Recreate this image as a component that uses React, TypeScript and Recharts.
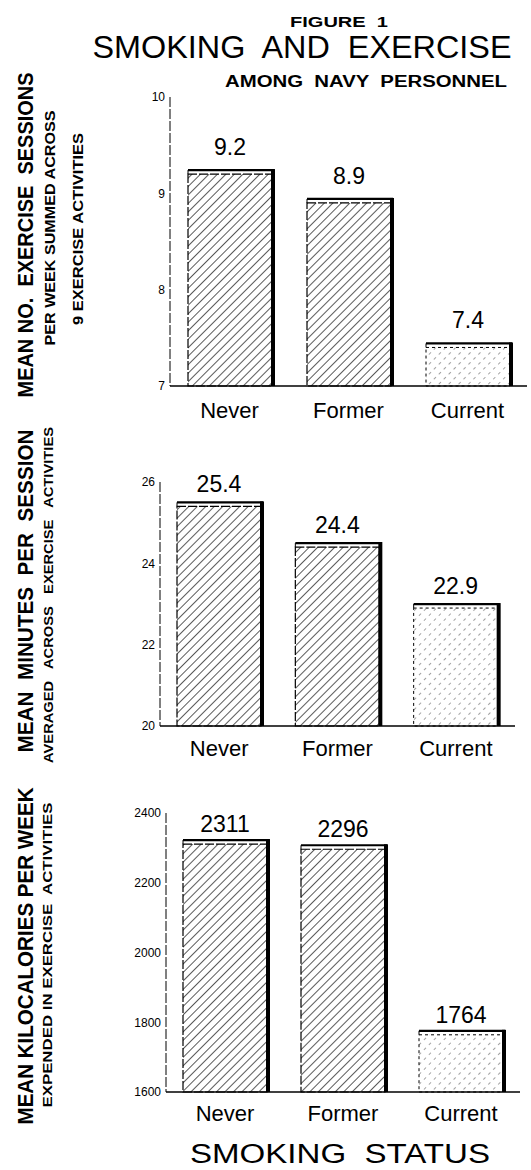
import React from 'react';
import { BarChart, Bar, XAxis, YAxis, Cell, LabelList } from 'recharts';

const categories = ['Never', 'Former', 'Current'];
const sessions = [9.2, 8.9, 7.4];
const minutes = [25.4, 24.4, 22.9];
const kcal = [2311, 2296, 1764];

const sessionTicks = [7, 8, 9, 10];
const minuteTicks = [20, 22, 24, 26];
const kcalTicks = [1600, 1800, 2000, 2200, 2400];

const FONT = '"Liberation Sans", Arial, Helvetica, sans-serif';

const toRows = (values: number[]) => categories.map((name, i) => ({ name, value: values[i] }));

// hatched bar with the thick "shadow" edge on the right and a double top rule
const HatchBar = (props: any) => {
  const { x, y, width, height, fill, index } = props;
  if (height == null || height <= 0) return null;
  const light = index === 2;
  return (
    <g>
      <rect x={x} y={y} width={width} height={height} fill={fill}
        stroke="#000" strokeWidth={light ? 1 : 1.2} strokeDasharray={light ? '3 3' : '9 2'} />
      <line x1={x} y1={y - 4} x2={x + width + 2} y2={y - 4} stroke="#000" strokeWidth={2.2} />
      <line x1={x} y1={y - 4} x2={x} y2={y} stroke="#000" strokeWidth={1} />
      <line x1={x + width + 1} y1={y - 5} x2={x + width + 1} y2={y + height} stroke="#000" strokeWidth={4} />
    </g>
  );
};

const Patterns = ({ id }: { id: string }) => (
  <defs>
    <pattern id={`${id}-dark`} patternUnits="userSpaceOnUse" width="6" height="6" patternTransform="rotate(45)">
      <rect width="6" height="6" fill="#fff" />
      <line x1="0" y1="0" x2="0" y2="6" stroke="#000" strokeWidth="1.3" />
    </pattern>
    <pattern id={`${id}-light`} patternUnits="userSpaceOnUse" width="7" height="7" patternTransform="rotate(45)">
      <rect width="7" height="7" fill="#fff" />
      <line x1="0" y1="0" x2="0" y2="7" stroke="#444" strokeWidth="1" strokeDasharray="3 4" />
    </pattern>
  </defs>
);

interface PanelProps {
  id: string;
  values: number[];
  ticks: number[];
  top: number;
  height: number;
  margin: { top: number; right: number; bottom: number; left: number };
  yWidth: number;
  xHeight: number;
  xMargin: number;
  tickSize: number;
  labelOffset: number;
}

const Panel = ({ id, values, ticks, top, height, margin, yWidth, xHeight, xMargin, tickSize, labelOffset }: PanelProps) => (
  <div style={{ position: 'absolute', left: 0, top }}>
    <BarChart width={531} height={height} data={toRows(values)} margin={margin} barCategoryGap={0}>
      <Patterns id={id} />
      <XAxis dataKey="name" height={xHeight} tickLine={false} tickSize={0} tickMargin={xMargin}
        axisLine={{ stroke: '#000', strokeWidth: 1.5 }}
        tick={{ fill: '#000', fontSize: 22, fontFamily: FONT }} />
      <YAxis type="number" domain={[ticks[0], ticks[ticks.length - 1]]} ticks={ticks} width={yWidth}
        tickLine={false} tickSize={2} tickMargin={3} interval={0}
        axisLine={{ stroke: '#000', strokeWidth: 1, strokeDasharray: '10 2' }}
        tick={{ fill: '#000', fontSize: tickSize, fontFamily: FONT }} />
      <Bar dataKey="value" barSize={84} isAnimationActive={false} shape={<HatchBar />}>
        {values.map((_, i) => (
          <Cell key={i} fill={i === 2 ? `url(#${id}-light)` : `url(#${id}-dark)`} />
        ))}
        <LabelList dataKey="value" position="top" offset={labelOffset}
          style={{ fill: '#000', fontSize: 23, fontFamily: FONT }} />
      </Bar>
    </BarChart>
  </div>
);

const Vertical = ({ x, y, len, size, children }: any) => (
  <text transform={`translate(${x},${y}) rotate(-90)`} textAnchor="middle" fontSize={size}
    fontWeight="bold" fontFamily={FONT} textLength={len} lengthAdjust="spacingAndGlyphs" fill="#000"
    xmlSpace="preserve">
    {children}
  </text>
);

export default function App() {
  return (
    <div style={{ position: 'absolute', left: 0, top: 0, width: 531, height: 1170, background: '#fff', overflow: 'hidden' }}>
      <Panel id="p1" values={sessions} ticks={sessionTicks} top={60} height={400}
        margin={{ top: 37, right: 4, bottom: 34, left: 0 }} yWidth={170} xHeight={40} xMargin={16}
        tickSize={12} labelOffset={19} />
      <Panel id="p2" values={minutes} ticks={minuteTicks} top={440} height={340}
        margin={{ top: 42, right: 16, bottom: 14, left: 0 }} yWidth={160} xHeight={40} xMargin={14}
        tickSize={12} labelOffset={14} />
      <Panel id="p3" values={kcal} ticks={kcalTicks} top={790} height={340}
        margin={{ top: 23, right: 11, bottom: 8, left: 0 }} yWidth={166} xHeight={30} xMargin={13}
        tickSize={12} labelOffset={12} />

      <svg width={531} height={1170} style={{ position: 'absolute', left: 0, top: 0, pointerEvents: 'none' }}>
        <text x={339} y={27} textAnchor="middle" fontSize={14} fontWeight="bold" fontFamily={FONT}
          textLength={98} lengthAdjust="spacingAndGlyphs" xmlSpace="preserve">FIGURE  1</text>
        <text x={302} y={58} textAnchor="middle" fontSize={31} fontFamily={FONT}
          textLength={419} lengthAdjust="spacingAndGlyphs" xmlSpace="preserve">SMOKING  AND  EXERCISE</text>
        <text x={366} y={87} textAnchor="middle" fontSize={16} fontWeight="bold" fontFamily={FONT}
          textLength={282} lengthAdjust="spacingAndGlyphs" xmlSpace="preserve">AMONG  NAVY  PERSONNEL</text>

        <Vertical x={33} y={235} len={325} size={22}>MEAN NO.  EXERCISE  SESSIONS</Vertical>
        <Vertical x={55} y={228} len={235} size={15}>PER WEEK SUMMED ACROSS</Vertical>
        <Vertical x={83} y={229} len={192} size={15}>9 EXERCISE ACTIVITIES</Vertical>

        <Vertical x={33} y={591} len={323} size={22}>MEAN  MINUTES  PER  SESSION</Vertical>
        <Vertical x={53} y={595} len={336} size={13}>AVERAGED   ACROSS   EXERCISE   ACTIVITIES</Vertical>

        <Vertical x={33} y={956} len={337} size={22}>MEAN KILOCALORIES PER WEEK</Vertical>
        <Vertical x={52} y={955} len={305} size={13}>EXPENDED IN EXERCISE  ACTIVITIES</Vertical>

        <text x={340} y={1163} textAnchor="middle" fontSize={27} fontFamily={FONT}
          textLength={300} lengthAdjust="spacingAndGlyphs" xmlSpace="preserve">SMOKING  STATUS</text>
      </svg>
    </div>
  );
}
